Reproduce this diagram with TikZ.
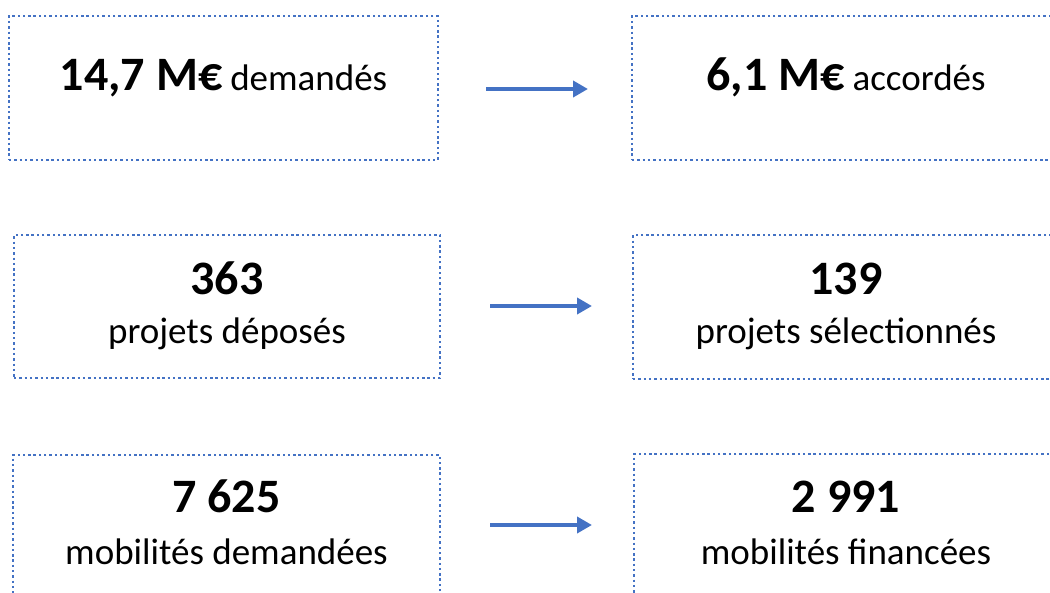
\documentclass[tikz,border=0pt]{standalone}
\usepackage{fontspec}
\setmainfont{Carlito}
\usetikzlibrary{arrows.meta}
\definecolor{accent}{HTML}{4472C4}
\newcommand{\bigtxt}{\fontsize{48}{56}\selectfont\bfseries}
\newcommand{\smalltxt}{\fontsize{37}{44}\selectfont}
\tikzset{
  box/.style={draw=accent, line width=2.4pt, dash pattern=on 2.4pt off 2.9pt,
    rectangle, inner sep=0pt, fill=none},
  big/.style={font=\bigtxt, anchor=base, inner sep=0pt},
  small/.style={font=\smalltxt, anchor=base, inner sep=0pt},
  arr/.style={draw=accent, line width=3.8pt, -{Triangle[length=15pt,width=16pt]}}
}
\begin{document}
\begin{tikzpicture}[x=1pt,y=-1pt]
\useasboundingbox (0,0) rectangle (1050,592);
% boxes
\node[box, minimum width=429pt, minimum height=144pt] (b1) at (223.5,88) {};
\node[box, minimum width=429pt, minimum height=144pt] (b2) at (846.5,88) {};
\node[box, minimum width=426pt, minimum height=143pt] (b3) at (227,306.5) {};
\node[box, minimum width=426pt, minimum height=144pt] (b4) at (846,307) {};
\node[box, minimum width=427pt, minimum height=144pt] (b5) at (226.5,527) {};
\node[box, minimum width=427pt, minimum height=144pt] (b6) at (847.5,526) {};
% texts
\node[anchor=base, inner sep=0pt] (t1) at (223.5,90) {{\bigtxt 14,7 M€}\hspace{8pt}{\smalltxt demandés}};
\node[anchor=base, inner sep=0pt] (t2) at (846,90) {{\bigtxt 6,1 M€}\hspace{8pt}{\smalltxt accordés}};
\node[big] (t3a) at (227,294) {363};
\node[small] (t3b) at (227,343) {projets déposés};
\node[big] (t4a) at (846,294) {139};
\node[small] (t4b) at (846,343) {projets sélectionnés};
\node[big] (t5a) at (226.5,512) {7 625};
\node[small] (t5b) at (226.5,564) {mobilités demandées};
\node[big] (t6a) at (846,512) {2 991};
\node[small] (t6b) at (846,564) {mobilités financées};
% arrows
\coordinate (a1s) at (486,89);
\coordinate (a1e) at (588,89);
\coordinate (a2s) at (490,306);
\coordinate (a2e) at (592,306);
\coordinate (a3s) at (490,525);
\coordinate (a3e) at (592,525);
\draw[arr] (a1s) -- (a1e);
\draw[arr] (a2s) -- (a2e);
\draw[arr] (a3s) -- (a3e);
\end{tikzpicture}
\end{document}
